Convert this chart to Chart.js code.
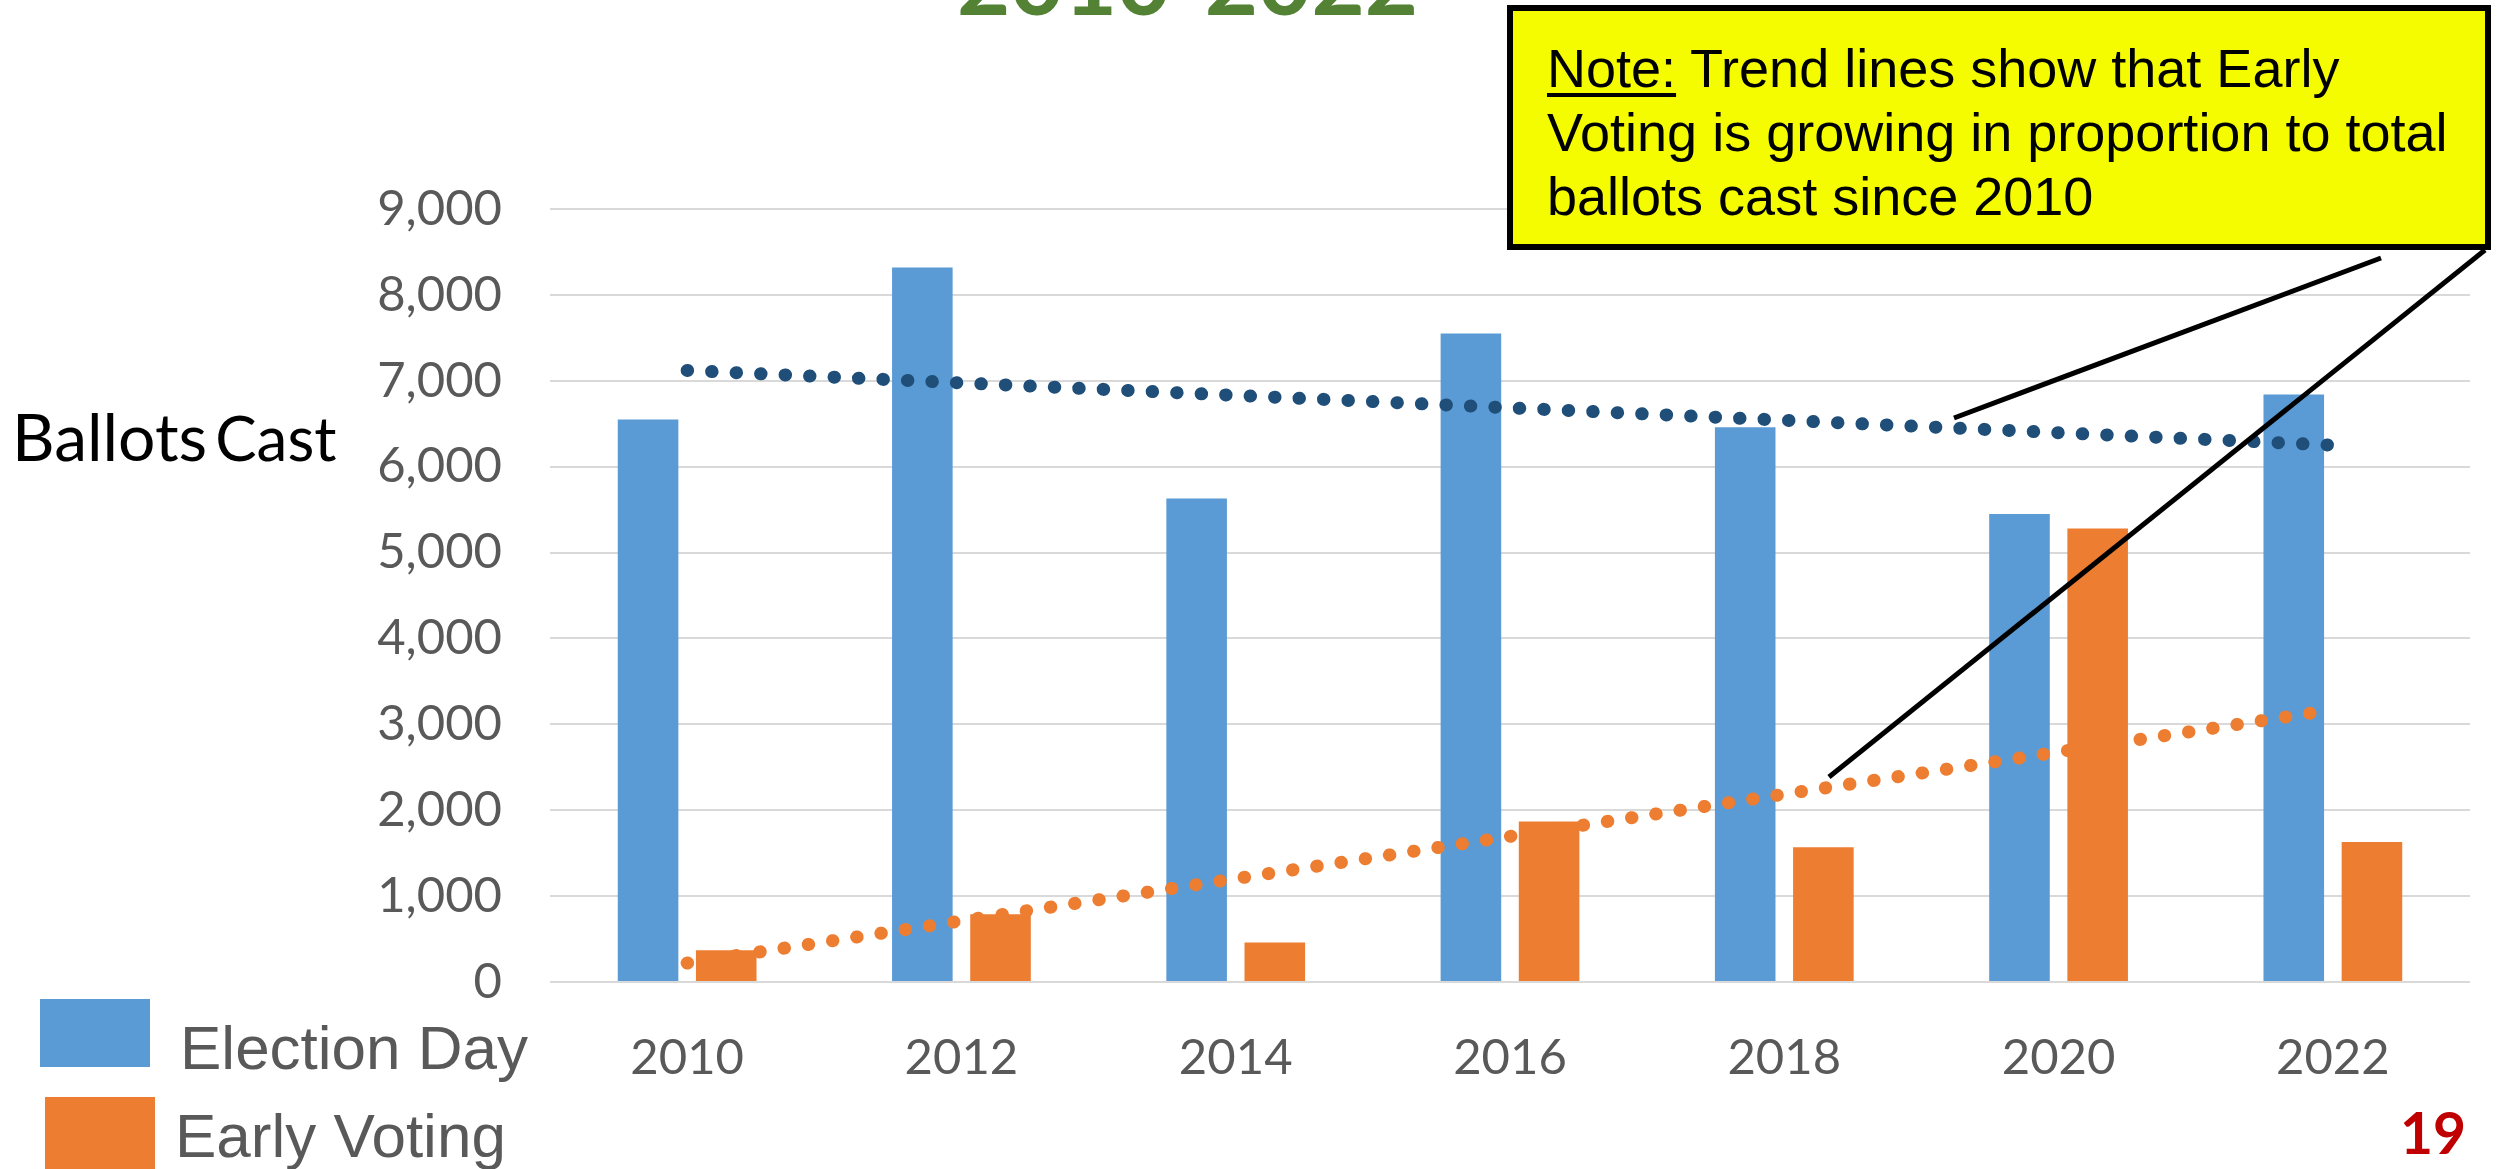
<!DOCTYPE html>
<html>
<head>
<meta charset="utf-8">
<script src="https://cdn.jsdelivr.net/npm/chart.js@4.4.1/dist/chart.umd.min.js"></script>
<style>
  html, body { margin: 0; padding: 0; background: #fff; }
  #wrap { position: relative; width: 2501px; height: 1169px; overflow: hidden; }
  #chart { position: absolute; left: 0; top: 0; }
  .txt { position: absolute; white-space: nowrap; }
  #title { left: 957px; top: -66px; font: bold 92px Lato; line-height: 92px; color: #548235; }
  #note { position: absolute; left: 1507px; top: 5px; width: 984px; height: 245px; box-sizing: border-box;
          border: 6px solid #000; background: #f5fc00; padding: 25px 0 0 34px;
          font: 54px "Liberation Sans"; line-height: 64px; color: #000; }
  #note u { text-decoration-thickness: 4px; text-underline-offset: 6px; }
  #ylabel { left: 12px; top: 401px; line-height: 70px; color: #000; font-family: Lato; }
  .leg-box { position: absolute; }
  .leg-text { position: absolute; font: 62px "Liberation Sans"; line-height: 62px; color: #595959; white-space: nowrap; }
  #page { left: 2400px; top: 1104px; font: bold 57px Lato; line-height: 57px; color: #c00000; }
  #lines { position: absolute; left: 0; top: 0; pointer-events: none; }
</style>
</head>
<body>
<div id="wrap">
  <canvas id="chart" width="2501" height="1169"></canvas>
  <div id="title" class="txt">2010-2022</div>
  <div id="ylabel" class="txt"><span style="font-size:66px">Ballots</span><span style="font-size:62px;margin-left:8px">Cast</span></div>
  <div id="legend"></div>
  <div id="page" class="txt">19</div>
  <div id="note"><u>Note:</u> Trend lines show that Early<br>Voting is growing in proportion to total<br>ballots cast since 2010</div>
  <svg id="lines" width="2501" height="1169">
    <line x1="2381" y1="258" x2="1954" y2="418" stroke="#000" stroke-width="5"/>
    <line x1="2485" y1="250" x2="1829" y2="777" stroke="#000" stroke-width="5"/>
  </svg>
</div>
<script>
const years = ["2010", "2012", "2014", "2016", "2018", "2020", "2022"];
const electionDay = [6550, 8320, 5630, 7550, 6460, 5450, 6840];
const earlyVoting = [370, 790, 460, 1870, 1570, 5280, 1630];
// trend lines, only the two ends
const trendElection = [7120, null, null, null, null, null, 6250];
const trendEarly = [220, null, null, null, null, null, 3170];
const yTicks = [0, 1000, 2000, 3000, 4000, 5000, 6000, 7000, 8000, 9000];

const blue = "#5B9BD5";
const orange = "#ED7D31";

// legend in the bottom left corner
const legend = document.querySelector("#legend");
[
  { label: "Election Day", color: blue, box: [40, 999, 110, 68], text: [180, 1017] },
  { label: "Early Voting", color: orange, box: [45, 1097, 110, 72], text: [175, 1105] },
].forEach((item) => {
  const box = document.createElement("div");
  box.className = "leg-box";
  box.style.cssText = `left:${item.box[0]}px;top:${item.box[1]}px;width:${item.box[2]}px;height:${item.box[3]}px;background:${item.color}`;
  legend.appendChild(box);
  const t = document.createElement("div");
  t.className = "leg-text";
  t.style.left = item.text[0] + "px";
  t.style.top = item.text[1] + "px";
  t.textContent = item.label;
  legend.appendChild(t);
});

const tickFont = { family: "Lato", size: 49 };

const trendStyle = {
  type: "line",
  borderWidth: 13,
  borderDash: [0.5, 24],
  borderCapStyle: "round",
  pointRadius: 0,
  spanGaps: true,
  fill: false,
  order: 0,
};

const chart = new Chart(document.querySelector("#chart"), {
  type: "bar",
  data: {
    labels: years,
    datasets: [
      {
        label: "Election Day",
        data: electionDay,
        backgroundColor: blue,
        categoryPercentage: 0.57,
        barPercentage: 0.775,
        order: 1,
      },
      {
        label: "Early Voting",
        data: earlyVoting,
        backgroundColor: orange,
        categoryPercentage: 0.57,
        barPercentage: 0.775,
        order: 1,
      },
      { ...trendStyle, label: "Trend Election Day", data: trendElection, borderColor: "#1F4E79" },
      { ...trendStyle, label: "Trend Early Voting", data: trendEarly, borderColor: orange },
    ],
  },
  options: {
    responsive: false,
    animation: false,
    layout: { padding: { top: 209, right: 31, left: 0, bottom: 0 } },
    plugins: { legend: { display: false }, tooltip: { enabled: false } },
    scales: {
      x: {
        grid: { display: false },
        border: { display: false },
        ticks: { font: tickFont, color: "#595959", padding: 39 },
        afterFit: (s) => { s.height = 187; },
      },
      y: {
        min: 0,
        max: 9000,
        grid: { color: "#D9D9D9", lineWidth: 2, drawTicks: false },
        border: { display: false },
        ticks: {
          font: tickFont,
          color: "#595959",
          padding: 48,
          callback: (v) => v.toLocaleString("en-US"),
        },
        afterBuildTicks: (s) => { s.ticks = yTicks.map((v) => ({ value: v })); },
        afterFit: (s) => { s.width = 550; },
      },
    },
  },
});
</script>
</body>
</html>
